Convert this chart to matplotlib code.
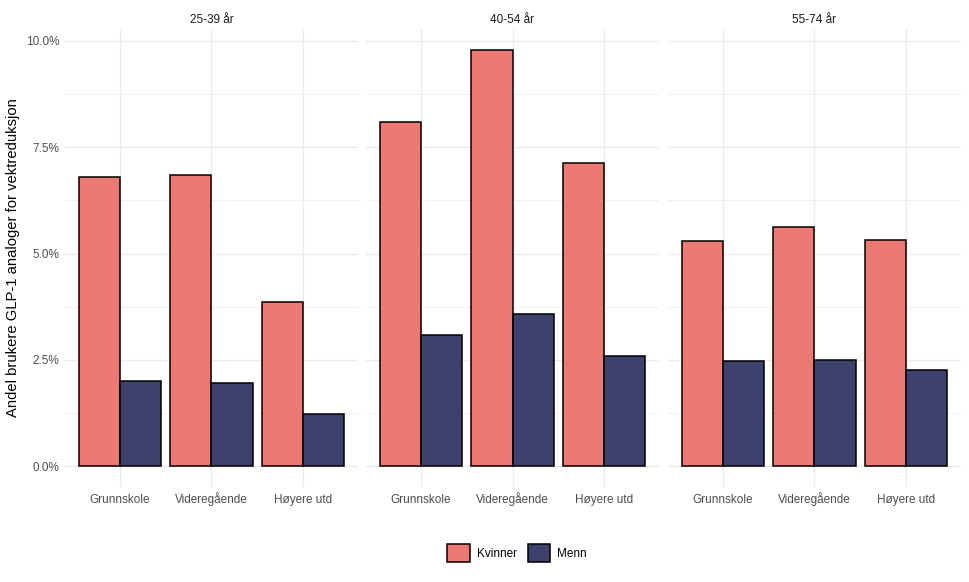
import numpy as np
import matplotlib
matplotlib.use('Agg')
import matplotlib.pyplot as plt
from matplotlib.patches import Patch
from matplotlib.ticker import FuncFormatter, MultipleLocator

plt.rcParams['font.family'] = ['Liberation Sans', 'DejaVu Sans']

#--------------------------------------------------#
ages = ['25-39 år', '40-54 år', '55-74 år']
edu = ['Grunnskole', 'Videregående', 'Høyere utd']
groups = ['Kvinner', 'Menn']
kvinner = [[6.79, 6.85, 3.86],
           [8.10, 9.79, 7.12],
           [5.30, 5.63, 5.32]]
menn = [[2.00, 1.96, 1.22],
        [3.09, 3.58, 2.58],
        [2.48, 2.50, 2.27]]
colors = ['#EC7A72', '#3F416D']
ylabel = 'Andel brukere GLP-1 analoger for vektreduksjon'
#--------------------------------------------------#

W, H = 970, 582
fig = plt.figure(figsize=(W/100, H/100), dpi=100)
lefts = [65, 366, 668]
pw = 293
top, bot = 29, 487

pct = FuncFormatter(lambda v, p: '{:.1f}%'.format(v))
ymax = max(max(r) for r in kvinner)
ylo, yhi = -0.05*ymax, ymax*1.05

x = np.arange(len(edu))
bw = 0.45
for i, age in enumerate(ages):
    ax = fig.add_axes([lefts[i]/W, 1-bot/H, pw/W, (bot-top)/H])
    ax.bar(x - bw/2, kvinner[i], bw, color=colors[0], edgecolor='black', linewidth=1.1, zorder=3)
    ax.bar(x + bw/2, menn[i], bw, color=colors[1], edgecolor='black', linewidth=1.1, zorder=3)
    ax.set_xlim(-0.6, len(edu)-0.4)
    ax.set_ylim(ylo, yhi)
    ax.yaxis.set_major_locator(MultipleLocator(2.5))
    ax.yaxis.set_minor_locator(MultipleLocator(1.25))
    ax.yaxis.set_major_formatter(pct)
    ax.set_xticks(x)
    ax.set_xticklabels(edu, va='baseline')
    ax.grid(which='major', color='#EBEBEB', linewidth=1.0, zorder=0)
    ax.grid(which='minor', axis='y', color='#F0F0F0', linewidth=0.7, zorder=0)
    for s in ax.spines.values():
        s.set_visible(False)
    ax.tick_params(length=0, labelsize=8.5, labelcolor='#4D4D4D', pad=4)
    ax.tick_params(axis='x', pad=11.5)
    ax.tick_params(which='minor', length=0)
    if i > 0:
        ax.tick_params(axis='y', labelleft=False)
    else:
        ax.set_ylabel(ylabel, fontsize=10.6, color='black', labelpad=4)
    ax.set_title(age, fontsize=8.5, color='#1A1A1A', pad=4)

handles = [Patch(facecolor=colors[k], edgecolor='black', linewidth=1.1, label=groups[k]) for k in range(2)]
fig.legend(handles=handles, loc='center', bbox_to_anchor=(0.533, 1-553/H), ncol=2, frameon=False,
           fontsize=8.5, handlelength=1.9, handleheight=1.9, handletextpad=0.6, columnspacing=0.9)

fig.savefig('out.png', dpi=100, facecolor='white')
